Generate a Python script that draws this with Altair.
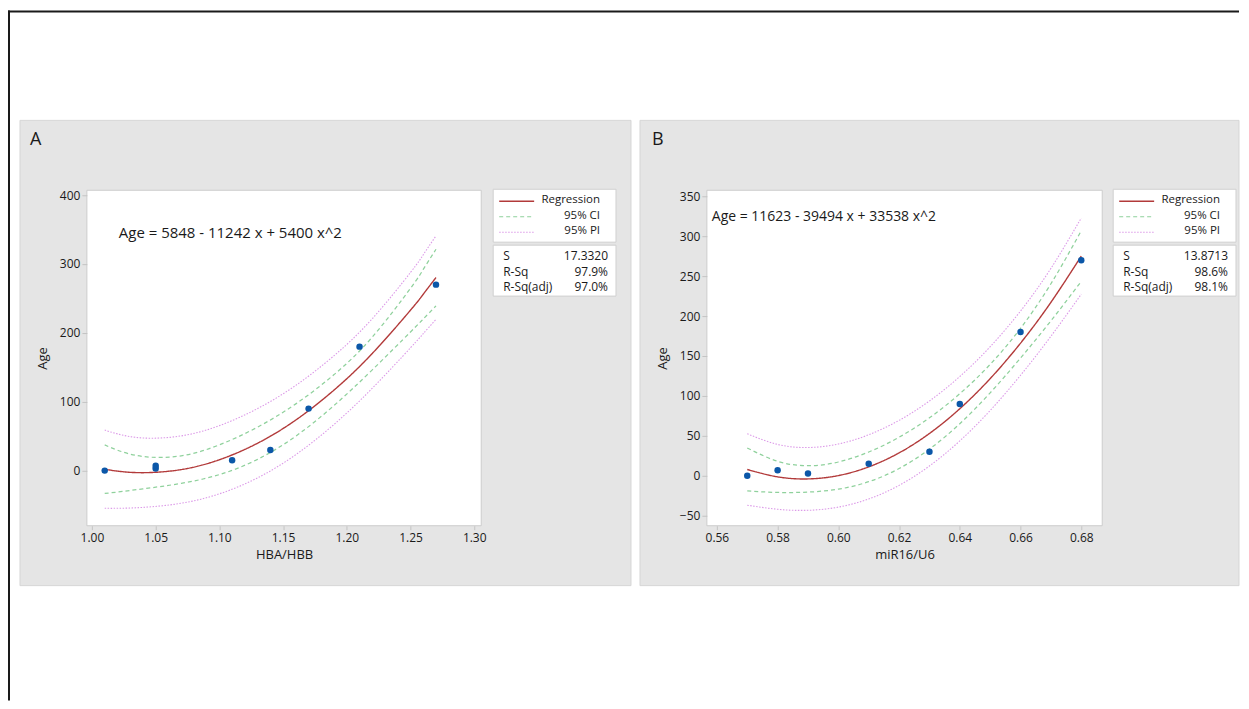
import altair as alt
import pandas as pd

FONT = "Open Sans"

# ---------------- Panel A data ----------------
a_x_pts = [1.01, 1.05, 1.05, 1.11, 1.14, 1.17, 1.21, 1.27]
a_age_pts = [0, 3, 7, 15, 30, 90, 180, 270]
a_grid = [1.01, 1.02, 1.04, 1.07, 1.10, 1.13, 1.16, 1.19, 1.22, 1.25, 1.26, 1.27]
a_fit = [2.1, -0.7, -3.0, 1.5, 15.8, 39.8, 73.5, 117.0, 170.1, 233.0, 256.1, 280.3]
a_ci_up = [37.3, 29.7, 20.5, 21.5, 37.4, 63.2, 96.9, 139.4, 193.9, 264.7, 292.1, 321.4]
a_ci_lo = [-33.1, -31.1, -26.5, -18.5, -5.8, 16.4, 50.1, 94.6, 146.3, 201.3, 220.1, 239.2]
a_pi_up = [58.9, 53.3, 47.4, 50.4, 65.3, 90.1, 123.8, 166.9, 220.6, 287.7, 313.4, 340.9]
a_pi_lo = [-54.7, -54.7, -53.4, -47.4, -33.7, -10.5, 23.2, 67.1, 119.6, 178.3, 198.8, 219.7]
a_xticks = [1.00, 1.05, 1.10, 1.15, 1.20, 1.25, 1.30]
a_yticks = [0, 100, 200, 300, 400]
a_stats = ["17.3320", "97.9%", "97.0%"]
a_eq = "Age = 5848 - 11242 x + 5400 x^2"

# ---------------- Panel B data ----------------
b_x_pts = [0.57, 0.58, 0.59, 0.61, 0.63, 0.64, 0.66, 0.68]
b_age_pts = [0, 7, 3, 15, 30, 90, 180, 270]
b_grid = [0.57, 0.58, 0.59, 0.60, 0.61, 0.62, 0.63, 0.64, 0.65, 0.66, 0.67, 0.68]
b_fit = [7.9, -1.3, -3.9, 0.3, 11.2, 28.7, 53.0, 84.0, 121.7, 166.1, 217.2, 275.1]
b_ci_up = [34.8, 18.2, 12.6, 17.3, 29.8, 48.3, 72.6, 102.8, 139.5, 184.7, 240.4, 306.8]
b_ci_lo = [-19.0, -20.8, -20.4, -16.7, -7.4, 9.1, 33.4, 65.2, 103.9, 147.5, 194.0, 243.4]
b_pi_up = [52.6, 39.3, 35.4, 39.8, 51.4, 69.4, 93.7, 124.3, 161.6, 206.3, 259.7, 322.8]
b_pi_lo = [-36.8, -41.9, -43.2, -39.2, -29.0, -12.0, 12.3, 43.7, 81.8, 125.9, 174.7, 227.4]
b_xticks = [0.56, 0.58, 0.60, 0.62, 0.64, 0.66, 0.68]
b_yticks = [-50, 0, 50, 100, 150, 200, 250, 300, 350]
b_stats = ["13.8713", "98.6%", "98.1%"]
b_eq = "Age = 11623 - 39494 x + 33538 x^2"

legend_names = ["Regression", "95% CI", "95% PI"]
stat_names = ["S", "R-Sq", "R-Sq(adj)"]

COLORS = ["#b23a3a", "#8fd19c", "#dc9ae8"]
DASHES = [[1, 0], [4, 3], [1.5, 1.5]]
WIDTHS = [1.4, 1.1, 1.1]

dummy = pd.DataFrame({"d": [0]})


def band_df(grid, fit, ciu, cil, piu, pil):
    rows = []
    for part, band, ys in [("pi_up", "95% PI", piu), ("pi_lo", "95% PI", pil),
                           ("ci_up", "95% CI", ciu), ("ci_lo", "95% CI", cil),
                           ("fit", "Regression", fit)]:
        for i, (xv, yv) in enumerate(zip(grid, ys)):
            rows.append({"x": xv, "y": yv, "band": band, "part": part, "i": i})
    return pd.DataFrame(rows)


def txt(s, x, y, size=12, align="left", color="#1a1a1a"):
    return alt.Chart(dummy).mark_text(
        align=align, baseline="middle", fontSize=size, font=FONT, color=color
    ).encode(x=alt.value(x), y=alt.value(y), text=alt.value(s))


def rect(x, x2, y, y2, fill, stroke, sw=1):
    return alt.Chart(dummy).mark_rect(fill=fill, stroke=stroke, strokeWidth=sw).encode(
        x=alt.value(x), x2=alt.value(x2), y=alt.value(y), y2=alt.value(y2))


def panel(label, label_x, grid, fit, ciu, cil, piu, pil, xs, ys, xdom, xticks,
          ydom, yticks, xtitle, eq, eq_x, eq_y, eq_size, stats, W, H, gray_right, extra=None):
    layers = []
    layers.append(rect(-67, gray_right, -70, 396, "#e5e5e5", "#d6d6d6"))
    if extra:
        layers.extend(extra)
    layers.append(rect(0, W, 0, H, "white", "#cccccc"))

    xsc = alt.Scale(domain=xdom, nice=False, zero=False)
    ysc = alt.Scale(domain=ydom, nice=False, zero=False)
    xax = alt.Axis(values=xticks, format=".2f", title=xtitle, grid=False, domain=False,
                   tickColor="#c4c4c4", tickSize=4, labelPadding=3, labelFontSize=12,
                   labelColor="#1a1a1a", titleFontSize=13, titleFontWeight="normal",
                   titleColor="#1a1a1a", titlePadding=5, labelFont=FONT, titleFont=FONT,
                   zindex=1)
    yax = alt.Axis(values=yticks, format="d", title="Age", grid=False, domain=False,
                   tickColor="#c4c4c4", tickSize=5, labelPadding=2, labelFontSize=12,
                   labelColor="#1a1a1a", titleFontSize=13, titleFontWeight="normal",
                   titleColor="#1a1a1a", titlePadding=10, labelFont=FONT, titleFont=FONT,
                   zindex=1)

    df = band_df(grid, fit, ciu, cil, piu, pil)
    lines = alt.Chart(df).mark_line(interpolate="natural", clip=True).encode(
        x=alt.X("x:Q", scale=xsc, axis=xax),
        y=alt.Y("y:Q", scale=ysc, axis=yax),
        color=alt.Color("band:N", scale=alt.Scale(domain=legend_names, range=COLORS), legend=None),
        strokeDash=alt.StrokeDash("band:N", scale=alt.Scale(domain=legend_names, range=DASHES), legend=None),
        strokeWidth=alt.StrokeWidth("band:N", scale=alt.Scale(domain=legend_names, range=WIDTHS), legend=None),
        detail="part:N",
        order="i:Q",
    )
    pts = alt.Chart(pd.DataFrame({"x": xs, "y": ys})).mark_circle(
        size=42, color="#0b57a8", opacity=1
    ).encode(x=alt.X("x:Q", scale=xsc), y=alt.Y("y:Q", scale=ysc))
    layers += [lines, pts]

    # label and equation
    layers.append(txt(label, label_x, -50, size=18))
    layers.append(txt(eq, eq_x, eq_y, size=eq_size))

    # legend boxes
    layers.append(rect(407, 530, -1, 52, "white", "#d0d0d0"))
    layers.append(rect(407, 530, 55, 106, "white", "#d0d0d0"))
    ly = [10.5, 26, 41.5]
    for k, name in enumerate(legend_names):
        layers.append(alt.Chart(dummy).mark_rule(
            color=COLORS[k], strokeDash=DASHES[k], strokeWidth=WIDTHS[k]
        ).encode(x=alt.value(413), x2=alt.value(448), y=alt.value(ly[k] + 0.5)))
        layers.append(txt(name, 514, ly[k] - 0.5, size=11.5, align="right"))
    sy = [66, 81.5, 97]
    for k, name in enumerate(stat_names):
        layers.append(txt(name, 417, sy[k], size=12))
        layers.append(txt(stats[k], 522, sy[k], size=12, align="right"))

    return alt.layer(*layers).properties(width=W, height=H)


frame = [
    alt.Chart(dummy).mark_rule(color="#1a1a1a", strokeWidth=2).encode(
        x=alt.value(-79), x2=alt.value(1154), y=alt.value(-179)),
    alt.Chart(dummy).mark_rule(color="#1a1a1a", strokeWidth=2).encode(
        x=alt.value(-78), y=alt.value(-180), y2=alt.value(511)),
]

pa = panel("A", -57, a_grid, a_fit, a_ci_up, a_ci_lo, a_pi_up, a_pi_lo, a_x_pts, a_age_pts,
           [0.996, 1.3055], a_xticks, [-80, 407], a_yticks, "HBA/HBB", a_eq, 32, 43, 15,
           a_stats, 395, 336, 545, extra=frame)
pb = panel("B", -55, b_grid, b_fit, b_ci_up, b_ci_lo, b_pi_up, b_pi_lo, b_x_pts, b_age_pts,
           [0.5567, 0.6869], b_xticks, [-62.5, 357.5], b_yticks, "miR16/U6", b_eq, 5, 27, 14,
           b_stats, 396, 336, 533)

chart = alt.hconcat(pa, pb, spacing=226, bounds="flush").properties(
    padding={"left": -2, "top": 0, "right": 0, "bottom": 0}
).configure_view(strokeWidth=0).configure(font=FONT)

chart.save("out.html", embed_options={"renderer": "svg", "actions": False})
